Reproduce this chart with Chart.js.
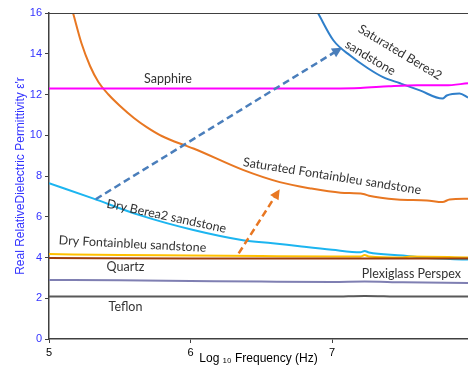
<!DOCTYPE html>
<html>
<head>
<meta charset="utf-8">
<script src="https://cdn.jsdelivr.net/npm/chart.js@4.4.1/dist/chart.umd.min.js"></script>
<style>
  html, body { margin: 0; padding: 0; background: #fff; }
  #wrap { width: 468px; height: 366px; position: relative; }
</style>
</head>
<body>
<div id="wrap"><canvas id="graph"></canvas></div>
<script>
// tick labels
const xTicks = [5, 6, 7];
const yTicks = [0, 2, 4, 6, 8, 10, 12, 14, 16];

// series (log10 frequency, permittivity)
const satFontX = [5.17, 5.23, 5.29, 5.35, 5.42, 5.50, 5.60, 5.69, 5.80, 5.96, 6.02, 6.37, 6.63, 6.84, 7.06, 7.22, 7.26, 7.46, 7.67, 7.78, 7.83, 7.96];
const satFontY = [16, 14.5, 13.4, 12.6, 12.0, 11.45, 10.85, 10.4, 9.95, 9.5, 9.35, 8.3, 7.7, 7.4, 7.18, 7.12, 7.03, 6.85, 6.8, 6.72, 6.85, 6.88];

const satBereaX = [6.90, 7.01, 7.13, 7.25, 7.36, 7.48, 7.62, 7.78, 7.81, 7.90, 7.96];
const satBereaY = [16, 14.65, 13.9, 13.3, 12.85, 12.55, 12.2, 11.8, 11.95, 12.05, 11.85];

const sapphireX = [5, 6, 7, 7.2, 7.4, 7.6, 7.8, 7.96];
const sapphireY = [12.3, 12.3, 12.3, 12.32, 12.4, 12.45, 12.45, 12.55];

const dryBereaX = [5, 5.31, 5.64, 6.02, 6.37, 6.58, 6.77, 7.0, 7.2, 7.23, 7.26, 7.5, 7.67, 7.96];
const dryBereaY = [7.65, 6.9, 6.08, 5.35, 4.85, 4.7, 4.55, 4.38, 4.26, 4.32, 4.25, 4.1, 3.97, 3.9];

const dryFontX = [5, 5.5, 6, 6.5, 7, 7.2, 7.23, 7.26, 7.5, 7.55, 7.96];
const dryFontY = [4.17, 4.12, 4.1, 4.07, 4.05, 4.05, 4.12, 4.05, 4.0, 4.05, 4.0];

const quartzX = [5, 6, 7, 7.5, 7.96];
const quartzY = [3.97, 3.95, 3.95, 3.95, 3.95];

const plexiX = [5, 5.5, 6, 6.5, 7, 7.23, 7.5, 7.96];
const plexiY = [2.9, 2.88, 2.85, 2.82, 2.8, 2.82, 2.78, 2.75];

const teflonX = [5, 6, 7, 7.23, 7.5, 7.96];
const teflonY = [2.08, 2.08, 2.08, 2.11, 2.08, 2.08];

// annotation text, centre position (data units) and rotation (deg)
const noteText = ['Sapphire', 'Saturated Berea2', 'sandstone', 'Saturated Fontainbleu sandstone',
  'Dry Berea2 sandstone', 'Dry Fontainbleu sandstone', 'Quartz', 'Plexiglass Perspex', 'Teflon'];
const noteX = [5.84, 7.48, 7.27, 7.0, 5.83, 5.59, 5.54, 7.56, 5.54];
const noteY = [12.75, 14.07, 13.8, 7.99, 6.03, 4.66, 3.53, 3.19, 1.57];
const noteRot = [0, 31, 31, 9, 12, 3, 0, 0, 0];

// dashed arrows: from -> to
const arrowFrom = [[5.33, 6.86], [6.34, 4.2]];
const arrowTo = [[7.07, 14.3], [6.63, 7.35]];
const arrowColor = ['#4A7EBB', '#E87722'];

function pts(xs, ys) {
  return xs.map((x, i) => ({ x: x, y: ys[i] }));
}

function line(data, color) {
  return {
    data: data,
    borderColor: color,
    borderWidth: 2,
    pointRadius: 0,
    fill: false,
    cubicInterpolationMode: 'monotone'
  };
}

const notes = {
  id: 'notes',
  afterDatasetsDraw(chart) {
    const ctx = chart.ctx;
    const xs = chart.scales.x, ys = chart.scales.y;
    const area = chart.chartArea;
    ctx.save();
    // top border
    ctx.strokeStyle = '#404040';
    ctx.lineWidth = 1;
    ctx.beginPath();
    ctx.moveTo(area.left, area.top + 0.5);
    ctx.lineTo(area.right, area.top + 0.5);
    ctx.stroke();

    // arrows
    for (let i = 0; i < arrowFrom.length; i++) {
      const x1 = xs.getPixelForValue(arrowFrom[i][0]), y1 = ys.getPixelForValue(arrowFrom[i][1]);
      const x2 = xs.getPixelForValue(arrowTo[i][0]), y2 = ys.getPixelForValue(arrowTo[i][1]);
      const a = Math.atan2(y2 - y1, x2 - x1);
      ctx.strokeStyle = arrowColor[i];
      ctx.fillStyle = arrowColor[i];
      ctx.lineWidth = 2.5;
      ctx.setLineDash([7, 4]);
      ctx.beginPath();
      ctx.moveTo(x1, y1);
      ctx.lineTo(x2 - 6 * Math.cos(a), y2 - 6 * Math.sin(a));
      ctx.stroke();
      ctx.setLineDash([]);
      ctx.beginPath();
      ctx.moveTo(x2, y2);
      ctx.lineTo(x2 - 10 * Math.cos(a) + 5 * Math.sin(a), y2 - 10 * Math.sin(a) - 5 * Math.cos(a));
      ctx.lineTo(x2 - 10 * Math.cos(a) - 5 * Math.sin(a), y2 - 10 * Math.sin(a) + 5 * Math.cos(a));
      ctx.closePath();
      ctx.fill();
    }

    // labels
    ctx.fillStyle = '#333333';
    ctx.font = '12.5px Lato';
    ctx.textAlign = 'center';
    ctx.textBaseline = 'middle';
    for (let i = 0; i < noteText.length; i++) {
      ctx.save();
      ctx.translate(xs.getPixelForValue(noteX[i]), ys.getPixelForValue(noteY[i]));
      ctx.rotate(noteRot[i] * Math.PI / 180);
      ctx.fillText(noteText[i], 0, 0);
      ctx.restore();
    }
    ctx.restore();
  }
};

new Chart(document.getElementById('graph'), {
  type: 'line',
  data: {
    datasets: [
      line(pts(teflonX, teflonY), '#595959'),
      line(pts(plexiX, plexiY), '#7F7FB2'),
      line(pts(quartzX, quartzY), '#9E3D0E'),
      line(pts(dryFontX, dryFontY), '#FFC000'),
      line(pts(dryBereaX, dryBereaY), '#1CB5F0'),
      line(pts(sapphireX, sapphireY), '#FF00FF'),
      line(pts(satFontX, satFontY), '#E87722'),
      line(pts(satBereaX, satBereaY), '#2F7FCA')
    ]
  },
  options: {
    responsive: true,
    maintainAspectRatio: false,
    animation: false,
    layout: { padding: { top: 13, right: 0, left: 0, bottom: 0 } },
    plugins: { legend: { display: false }, tooltip: { enabled: false } },
    scales: {
      x: {
        type: 'linear',
        min: 5,
        max: 7.96,
        afterBuildTicks: (s) => { s.ticks = xTicks.map(v => ({ value: v })); },
        afterFit: (s) => { s.height = 27; },
        grid: { display: true, drawOnChartArea: false, drawTicks: true, tickLength: 4, color: '#404040' },
        border: { color: '#404040', width: 1.5 },
        ticks: { color: '#000', padding: 3, font: { family: 'Liberation Sans', size: 11 } },
        title: {
          display: true,
          text: 'Log \u2081\u2080 Frequency (Hz)',
          color: '#000',
          padding: { top: 0, bottom: 0 },
          font: { family: 'Liberation Sans', size: 12 }
        }
      },
      y: {
        min: 0,
        max: 16,
        afterBuildTicks: (s) => { s.ticks = yTicks.map(v => ({ value: v })); },
        afterFit: (s) => { s.width = 49; },
        grid: { display: true, drawOnChartArea: false, drawTicks: true, tickLength: 4, color: '#404040' },
        border: { color: '#404040', width: 1.5 },
        ticks: { color: '#3333FF', padding: 3, font: { family: 'Liberation Sans', size: 11 } },
        title: {
          display: true,
          text: "Real RelativeDielectric Permittivity \u03b5'r",
          color: '#3333FF',
          padding: { top: 13, bottom: 0 },
          font: { family: 'Liberation Sans', size: 12 }
        }
      }
    }
  },
  plugins: [notes]
});
</script>
</body>
</html>
